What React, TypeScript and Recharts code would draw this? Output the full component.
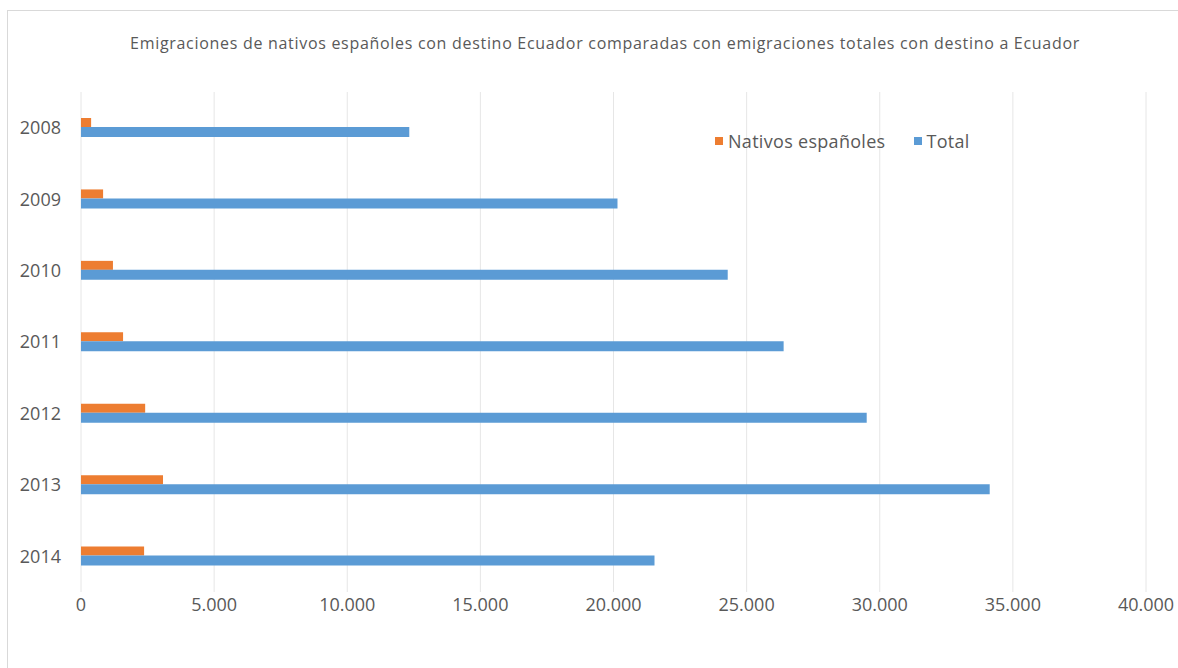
import { BarChart, Bar, XAxis, YAxis, CartesianGrid, Legend } from 'recharts';

const years = ['2008', '2009', '2010', '2011', '2012', '2013', '2014'];
const nativos = [380, 830, 1200, 1580, 2410, 3080, 2370];
const total = [12330, 20150, 24290, 26390, 29510, 34130, 21540];
const xTicks = [0, 5000, 10000, 15000, 20000, 25000, 30000, 35000, 40000];

const TITLE = 'Emigraciones de nativos españoles con destino Ecuador comparadas con emigraciones totales con destino a Ecuador';

const data = years.map((year, i) => ({
  year,
  nativos: nativos[i],
  total: total[i],
}));

const FONT = '"Open Sans", "Noto Sans", sans-serif';
const TEXT = '#595959';

const fmt = (v: number) => v.toLocaleString('de-DE');

const LegendContent = ({ payload }: any) => (
  <div style={{ display: 'flex', alignItems: 'center', fontFamily: FONT, fontSize: 18, color: TEXT, letterSpacing: 0.3 }}>
    {(payload || []).map((p: any, i: number) => (
      <div key={p.value} style={{ display: 'flex', alignItems: 'center', marginRight: i === 0 ? 28 : 0 }}>
        <span style={{ width: 8, height: 8, background: p.color, display: 'inline-block', marginRight: 5 }} />
        <span>{p.value}</span>
      </div>
    ))}
  </div>
);

export default function App() {
  return (
    <div
      style={{
        position: 'fixed',
        top: 10,
        left: 7,
        width: 1171,
        height: 658,
        borderTop: '1px solid #d9d9d9',
        borderLeft: '1px solid #d9d9d9',
        background: '#fff',
      }}
    >
      <div
        style={{
          position: 'absolute',
          top: 21,
          left: 0,
          width: 1194,
          textAlign: 'center',
          fontFamily: FONT,
          fontSize: 16,
          letterSpacing: 0.7,
          color: TEXT,
        }}
      >
        {TITLE}
      </div>
      <BarChart
        width={1170}
        height={658}
        data={data}
        layout="vertical"
        barGap={0}
        margin={{ top: 81, right: 32, left: 13, bottom: 23 }}
        style={{ overflow: 'visible' }}
      >
        <CartesianGrid horizontal={false} stroke="#e6e6e6" />
        <XAxis
          type="number"
          domain={[0, 40000]}
          ticks={xTicks}
          tickFormatter={fmt}
          axisLine={false}
          tickLine={false}
          tickSize={0}
          tickMargin={6}
          height={30}
          tick={{ fill: TEXT, fontSize: 18, fontFamily: FONT }}
        />
        <YAxis
          type="category"
          dataKey="year"
          width={60}
          axisLine={false}
          tickLine={false}
          tickSize={0}
          tickMargin={20}
          tick={{ fill: TEXT, fontSize: 18, fontFamily: FONT }}
        />
        <Legend
          content={<LegendContent />}
          wrapperStyle={{ position: 'absolute', top: 118, left: 707, width: 'auto' }}
        />
        <Bar dataKey="nativos" name="Nativos españoles" fill="#ED7D31" barSize={9} isAnimationActive={false} />
        <Bar dataKey="total" name="Total" fill="#5B9BD5" barSize={10} isAnimationActive={false} />
      </BarChart>
    </div>
  );
}
